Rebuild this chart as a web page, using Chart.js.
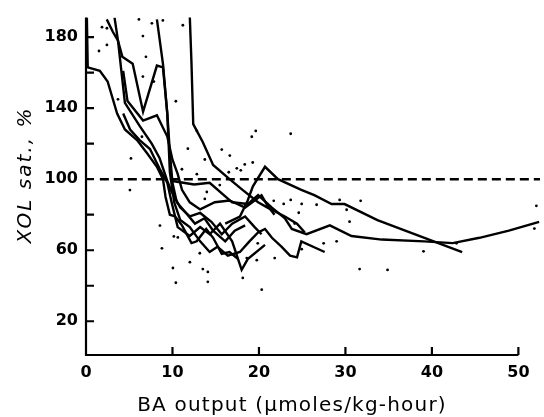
<!DOCTYPE html>
<html>
<head>
<meta charset="utf-8">
<script src="https://cdn.jsdelivr.net/npm/chart.js@4.4.0/dist/chart.umd.min.js"></script>
<style>
   body { margin: 0; background: #fff; }
   #wrapper { width: 544px; height: 417px; }
</style>
</head>
<body>
<div id="wrapper"><canvas id="chart" width="544" height="417"></canvas></div>
<script>
/* Données : x = BA output, y = XOL sat. (%) */
const curve1 = [[0.1,191],[0.2,163],[1.6,161],[2.5,155],[3.6,137],[4.5,128],[5.9,122],[7.0,115],[8.2,107],[8.9,100],[9.2,90],[9.7,80],[10.3,79],[11.1,74],[12.2,64],[12.8,65],[13.9,72],[14.7,67],[15.7,58],[16.6,59],[17.6,55]];
const curve2 = [[2.4,190],[3.1,183],[3.7,178],[4.2,169],[5.4,165],[6.6,138],[8.2,164],[8.9,163],[9.4,137],[9.7,115],[10.0,98],[10.5,87],[11.4,82],[12.6,75],[13.7,78],[14.7,71],[16.1,65],[17.2,71],[18.4,74]];
const curve3 = [[3.3,191],[3.7,178],[4.5,143],[6.2,130],[7.6,120],[8.5,112],[9.4,99],[9.9,93],[10.9,84],[12.0,79],[13.2,81],[14.5,76],[15.7,69],[16.9,75],[18.4,79],[19.5,73],[20.3,69]];
const curve4 = [[4.3,161],[4.8,144],[6.6,133],[8.2,136],[9.4,124],[10.0,111],[10.6,103],[11.1,94],[12.0,87],[13.2,83],[14.9,87],[16.6,88],[18.4,84],[19.5,88],[20.3,91],[21.0,85],[21.8,80]];
const curve5 = [[4.3,137],[5.1,128],[6.2,122],[7.4,117],[8.5,106],[9.4,98],[9.9,87],[10.6,73],[12.0,68],[13.2,73],[14.3,69],[15.5,75],[16.9,65],[18.0,49],[18.7,55],[20.7,63]];
const curve6 = [[8.2,190],[8.9,165],[9.4,137],[9.7,104],[10.2,87],[10.9,77],[12.0,73],[13.2,65],[14.3,59],[15.2,62],[16.4,57],[17.8,59],[18.9,65],[19.9,70],[20.7,72],[21.5,67],[22.6,62],[23.6,57],[24.4,56],[24.9,65],[27.6,59]];
const curve7 = [[12.0,192],[12.2,165],[12.4,131],[13.5,121],[14.7,108],[16.6,100],[18.1,94],[19.9,87],[21.0,84],[23.0,79],[24.4,75],[25.3,70]];
const curve8 = [[16.1,75],[17.8,79],[18.7,88],[19.3,96],[20.7,107],[22.2,100],[24.9,94],[26.4,91],[28.4,86],[29.9,86],[33.7,77],[38.6,68],[43.5,59]];
const curve9 = [[10.0,99],[12.5,97],[14.3,98],[16.9,87],[18.7,86],[19.9,91],[21.5,84],[23.0,78],[23.8,72],[25.5,69],[28.2,74],[30.7,68],[34.2,66],[39.1,65],[42.4,64],[45.5,67],[48.9,71],[52.4,76]];
const curves = [curve1, curve2, curve3, curve4, curve5, curve6, curve7, curve8, curve9];

// Ligne de référence (100 %)
const referenceLine = [[1.6,100],[52.5,100]];

// Points individuels
const dots = [
   [1.85,185.6],[2.42,185.0],[1.50,172.2],[2.42,175.6],[6.12,190.0],[7.62,187.8],[8.89,189.4],[11.2,186.7],
   [6.58,180.6],[6.93,168.9],[6.58,157.8],[7.85,155.0],[3.70,145.0],[10.39,143.9],[5.20,111.7],[6.47,123.9],
   [11.78,117.2],[12.82,127.2],[13.74,111.1],[15.70,116.7],[16.63,113.3],[16.51,103.9],[17.44,106.1],[18.36,108.3],
   [19.63,127.2],[19.17,123.9],[19.28,109.4],[11.09,105.6],[5.08,93.9],[13.97,92.8],[15.47,96.7],[13.74,88.9],
   [23.67,125.6],[21.71,87.8],[22.86,86.1],[23.67,88.3],[24.94,86.1],[26.67,85.6],[29.33,88.3],[30.14,82.8],
   [31.76,87.8],[52.08,85.0],[8.55,73.9],[8.78,61.1],[10.16,67.8],[10.05,50.0],[10.39,41.7],[12.01,53.3],
   [13.16,58.3],[13.51,49.4],[14.09,47.8],[14.09,42.2],[18.13,44.4],[18.59,55.6],[19.75,54.4],[20.32,37.8],
   [19.86,63.9],[21.82,55.6],[24.94,60.6],[27.48,63.9],[28.98,65.0],[31.64,49.4],[34.87,48.9],[39.03,59.4],
   [30.48,76.1],[51.85,72.2],[42.84,63.9],[24.6,81.1],[24.13,75.0],[12.82,102.8],[17.9,105.0],[10.62,67.2]
];

// Graduations
const xTickValues = [0, 10, 20, 30, 40, 50];
const yTickValues = [20, 40, 60, 80, 100, 120, 140, 160, 180];
const yTickLabels = ['20', '', '60', '', '100', '', '140', '', '180'];

const xTitle = 'BA output (μmoles/kg-hour)';
const yTitle = 'XOL sat., %';

function toPoints(pairs) {
   return pairs.map(p => ({ x: p[0], y: p[1] }));
}

/* Axes, graduations intérieures et titres */
const axesPlugin = {
   id: 'axes',
   afterDraw(chart) {
      var ctx = chart.ctx;
      var xs = chart.scales.x;
      var ys = chart.scales.y;
      var x0 = xs.getPixelForValue(0);
      var xEnd = xs.getPixelForValue(50);
      var yBottom = ys.getPixelForValue(ys.min);
      var yTop = ys.getPixelForValue(ys.max);

      ctx.save();
      ctx.strokeStyle = '#000';
      ctx.lineWidth = 2.2;
      ctx.beginPath();
      ctx.moveTo(x0, yTop);
      ctx.lineTo(x0, yBottom);
      ctx.lineTo(xEnd, yBottom);
      yTickValues.forEach(v => {
         var py = ys.getPixelForValue(v);
         ctx.moveTo(x0, py);
         ctx.lineTo(x0 + 8, py);
      });
      xTickValues.slice(1).forEach(v => {
         var px = xs.getPixelForValue(v);
         ctx.moveTo(px, yBottom);
         ctx.lineTo(px, yBottom - 8);
      });
      ctx.stroke();

      ctx.fillStyle = '#000';
      ctx.textAlign = 'center';
      ctx.textBaseline = 'alphabetic';
      ctx.font = '20px "DejaVu Sans"';
      ctx.letterSpacing = '1.2px';
      ctx.fillText(xTitle, 292, 411);

      ctx.translate(31, 175);
      ctx.rotate(-Math.PI / 2);
      ctx.font = 'italic 20px "DejaVu Sans"';
      ctx.letterSpacing = '2px';
      ctx.fillText(yTitle, 0, 0);
      ctx.restore();
   }
};

var datasets = curves.map(c => ({
   data: toPoints(c),
   showLine: true,
   borderColor: '#000',
   borderWidth: 2.4,
   pointRadius: 0,
   tension: 0
}));

datasets.push({
   data: toPoints(referenceLine),
   showLine: true,
   borderColor: '#000',
   borderWidth: 2.6,
   borderDash: [9, 5],
   pointRadius: 0
});

datasets.push({
   data: toPoints(dots),
   showLine: false,
   pointRadius: 1.4,
   pointBackgroundColor: '#000',
   pointBorderWidth: 0
});

const myChart = new Chart(document.getElementById('chart'), {
   type: 'scatter',
   data: { datasets: datasets },
   options: {
      responsive: false,
      animation: false,
      devicePixelRatio: 1,
      events: [],
      layout: {
         padding: { top: 13, right: 3, left: 0, bottom: 0 }
      },
      plugins: {
         legend: { display: false },
         tooltip: { enabled: false }
      },
      scales: {
         x: {
            type: 'linear',
            min: 0,
            max: 52.5,
            afterFit: scale => { scale.height = 62; },
            afterBuildTicks: scale => { scale.ticks = xTickValues.map(v => ({ value: v })); },
            grid: { display: false, drawTicks: false },
            border: { display: false },
            ticks: {
               color: '#000',
               padding: 8,
               maxRotation: 0,
               autoSkip: false,
               font: { family: 'DejaVu Sans', size: 16, weight: 'bold' },
               callback: v => String(v)
            }
         },
         y: {
            type: 'linear',
            min: 1,
            max: 191,
            afterFit: scale => { scale.width = 86; },
            afterBuildTicks: scale => { scale.ticks = yTickValues.map(v => ({ value: v })); },
            grid: { display: false, drawTicks: false },
            border: { display: false },
            ticks: {
               color: '#000',
               padding: 8,
               autoSkip: false,
               font: { family: 'DejaVu Sans', size: 16, weight: 'bold' },
               callback: v => yTickLabels[yTickValues.indexOf(v)]
            }
         }
      }
   },
   plugins: [axesPlugin]
});
</script>
</body>
</html>
